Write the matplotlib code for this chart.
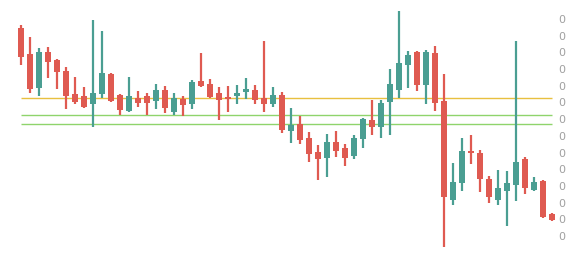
import matplotlib
matplotlib.use("Agg")
import matplotlib.pyplot as plt
from matplotlib.ticker import FixedLocator, FormatStrFormatter

# Prices in units of 1e-5
UNIT = 1e-5
opens = [22.46, 20.91, 18.87, 21.03, 20.55, 19.89, 18.51, 18.39, 17.91, 18.51,
         19.71, 18.45, 17.49, 18.27, 18.39, 18.09, 18.75, 17.43, 18.21, 17.91,
         19.29, 19.11, 18.57, 18.33, 18.39, 18.63, 18.75, 18.27, 17.91, 18.45,
         16.29, 16.71, 15.87, 15.03, 14.67, 15.63, 15.27, 14.79, 15.81, 16.95,
         16.53, 18.03, 18.75, 20.25, 21.03, 19.05, 20.97, 18.09, 12.16, 13.18,
         15.09, 14.97, 13.42, 12.16, 12.70, 13.06, 14.61, 12.76, 13.30, 11.32]
highs = [22.64, 21.92, 21.27, 21.32, 20.61, 20.13, 19.53, 18.93, 22.94, 22.28,
         19.77, 18.51, 19.53, 18.69, 18.57, 19.11, 18.99, 18.57, 18.39, 19.35,
         20.97, 19.41, 18.93, 18.99, 19.05, 19.47, 19.05, 21.68, 18.93, 18.63,
         17.67, 17.19, 16.23, 15.45, 16.11, 16.29, 15.51, 16.05, 17.07, 18.15,
         18.15, 20.01, 23.48, 21.09, 21.09, 21.15, 21.38, 19.71, 14.37, 15.87,
         16.05, 15.15, 13.59, 13.96, 13.89, 21.68, 14.73, 13.53, 13.35, 11.38]
lows = [20.25, 18.57, 18.39, 19.47, 18.81, 17.61, 17.91, 17.67, 16.53, 18.27,
        18.03, 17.25, 17.43, 17.73, 17.25, 17.61, 17.37, 17.25, 17.19, 17.61,
        18.93, 18.27, 16.95, 17.43, 17.91, 18.21, 17.91, 17.43, 17.73, 16.17,
        15.57, 15.51, 14.43, 13.35, 13.53, 14.73, 14.19, 14.61, 15.27, 16.05,
        15.87, 16.05, 18.27, 18.87, 18.69, 17.91, 17.49, 9.34, 11.86, 12.70,
        14.31, 12.64, 11.98, 11.86, 10.60, 12.10, 12.52, 12.70, 11.08, 10.90]
closes = [20.73, 18.81, 21.03, 20.43, 19.83, 18.39, 18.03, 17.73, 18.57, 19.77,
          18.09, 17.55, 18.39, 17.97, 17.97, 18.75, 17.67, 18.27, 17.85, 19.23,
          18.99, 18.33, 18.15, 18.21, 18.57, 18.81, 18.15, 17.91, 18.45, 16.35,
          16.65, 15.75, 14.91, 14.61, 15.63, 15.09, 14.67, 15.87, 17.01, 16.53,
          17.97, 19.11, 20.37, 20.85, 19.05, 21.03, 17.97, 12.34, 13.24, 15.09,
          14.97, 13.42, 12.34, 12.88, 13.18, 14.43, 12.88, 13.24, 11.14, 10.96]
yellow_level = 18.25
green_levels = [17.22, 16.71]
tick_values = list(range(10, 24))

UP = "#4a9e92"
DOWN = "#df5a51"

W, H = 584, 258
fig = plt.figure(figsize=(W / 100, H / 100), dpi=100)
x0, x1 = 16.5, 556.5
ax = fig.add_axes([x0 / W, 0, (x1 - x0) / W, 1])

n = len(opens)
xs = list(range(n))
o = [v * UNIT for v in opens]
h = [v * UNIT for v in highs]
l = [v * UNIT for v in lows]
c = [v * UNIT for v in closes]

for i in xs:
    col = UP if c[i] >= o[i] else DOWN
    ax.vlines(i, l[i], h[i], color=col, linewidth=1.6, zorder=2)
    bottom = min(o[i], c[i])
    height = max(abs(c[i] - o[i]), 0.6 * UNIT / 16.69)
    ax.bar(i, height, bottom=bottom, width=0.68, color=col, linewidth=0, zorder=3)

ax.hlines(yellow_level * UNIT, 0, n - 1, color="#e8c040", linewidth=1.0, zorder=1)
for g in green_levels:
    ax.hlines(g * UNIT, 0, n - 1, color="#8fd46c", linewidth=1.0, zorder=1)

def px2val(p):
    return (10 + (236 - p) / 16.69) * UNIT

ax.set_ylim(px2val(258), px2val(0))
ax.set_xlim(-0.5, n - 0.5)
ax.yaxis.set_major_locator(FixedLocator([t * UNIT for t in tick_values]))
ax.yaxis.set_major_formatter(FormatStrFormatter("%.0f"))
ax.yaxis.tick_right()
ax.tick_params(axis="y", length=0, pad=1, labelsize=8, labelcolor="#a0a0a0")
ax.set_xticks([])
for s in ax.spines.values():
    s.set_visible(False)
ax.patch.set_alpha(0)

fig.savefig("out.png", dpi=100, facecolor="white")
